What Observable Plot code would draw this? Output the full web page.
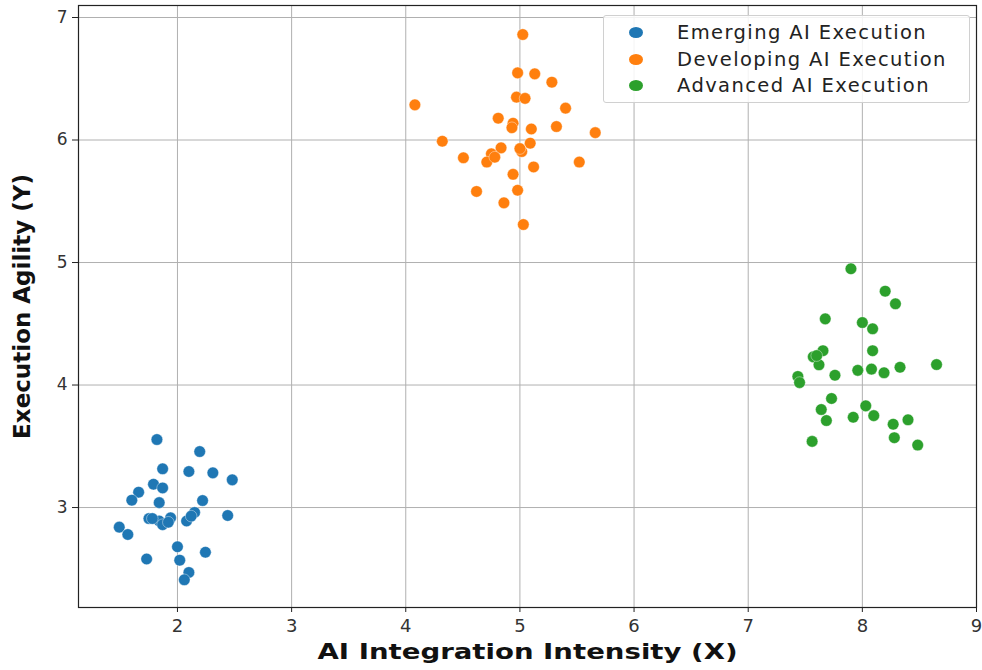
<!DOCTYPE html>
<html>
<head>
<meta charset="utf-8">
<script src="https://cdn.jsdelivr.net/npm/d3@7"></script>
<script src="https://cdn.jsdelivr.net/npm/@observablehq/plot@0.6"></script>
<style>
  html, body { margin: 0; padding: 0; background: #fff; }
  #wrap { position: relative; width: 982px; height: 670px; font-family: "DejaVu Sans", sans-serif; }
  #legend { position: absolute; left: 603px; top: 15px; width: 367px; height: 88px; box-sizing: border-box;
    border: 1px solid #d0d0d0; border-radius: 3px; background: rgba(255,255,255,0.85); padding: 3px 0 0 0; }
  .item { display: flex; align-items: center; height: 26.7px; font-size: 19.5px; color: #222; letter-spacing: 1.4px; }
  .sw { width: 14px; height: 11px; border-radius: 50%; margin-left: 25px; margin-right: 34px; }
</style>
</head>
<body>
<div id="wrap"></div>
<script>
const seriesNames = ["Emerging AI Execution", "Developing AI Execution", "Advanced AI Execution"];
const seriesColors = ["#1f77b4", "#ff7f0e", "#2ca02c"];

const emergingX = [1.82, 2.195, 1.87, 2.10, 2.31, 2.48, 1.79, 1.87, 1.66, 1.60, 1.84, 2.22, 2.15, 2.44, 1.75, 1.84, 1.94, 1.87, 2.08, 1.49, 1.565, 2.00, 2.245, 1.73, 2.02, 2.10, 2.06, 1.92, 1.78, 2.12];
const emergingY = [3.555, 3.457, 3.316, 3.294, 3.283, 3.226, 3.19, 3.16, 3.125, 3.06, 3.04, 3.057, 2.96, 2.935, 2.91, 2.89, 2.916, 2.86, 2.89, 2.84, 2.78, 2.68, 2.635, 2.58, 2.57, 2.47, 2.41, 2.88, 2.91, 2.93];

const developingX = [5.025, 4.98, 5.13, 5.28, 4.08, 4.97, 5.045, 5.40, 4.81, 4.94, 4.93, 5.10, 5.32, 5.66, 4.32, 4.835, 5.09, 5.016, 4.75, 4.505, 4.71, 5.12, 5.52, 4.94, 4.62, 4.98, 4.86, 5.03, 5.00, 4.78];
const developingY = [6.861, 6.548, 6.54, 6.472, 6.287, 6.35, 6.34, 6.26, 6.178, 6.137, 6.10, 6.09, 6.11, 6.06, 5.99, 5.936, 5.974, 5.906, 5.887, 5.855, 5.82, 5.78, 5.82, 5.72, 5.58, 5.59, 5.487, 5.31, 5.93, 5.86];

const advancedX = [7.90, 8.20, 8.29, 7.675, 8.00, 8.09, 7.655, 7.57, 8.09, 7.62, 7.96, 8.08, 8.19, 8.33, 8.65, 7.76, 7.435, 7.45, 7.73, 8.03, 7.64, 8.10, 7.92, 7.685, 8.27, 8.40, 8.28, 7.56, 8.485, 7.60];
const advancedY = [4.949, 4.766, 4.663, 4.54, 4.51, 4.459, 4.28, 4.23, 4.28, 4.165, 4.12, 4.13, 4.10, 4.145, 4.167, 4.08, 4.07, 4.02, 3.89, 3.83, 3.80, 3.75, 3.737, 3.71, 3.68, 3.716, 3.57, 3.54, 3.51, 4.24];

const xTicks = [2, 3, 4, 5, 6, 7, 8, 9];
const yTicks = [3, 4, 5, 6, 7];
const xTitle = "AI Integration Intensity (X)";
const yTitle = "Execution Agility (Y)";

const groups = [[emergingX, emergingY], [developingX, developingY], [advancedX, advancedY]];
const data = [];
groups.forEach(([xs, ys], gi) => xs.forEach((x, i) => data.push({x, y: ys[i], s: seriesNames[gi]})));

const chart = Plot.plot({
  width: 982,
  height: 670,
  marginLeft: 78,
  marginRight: 6,
  marginTop: 5,
  marginBottom: 63,
  style: { fontFamily: "DejaVu Sans, sans-serif", fontSize: "16px", color: "#222", background: "#fff", overflow: "visible" },
  x: { domain: [1.133, 9.0], ticks: xTicks, label: null },
  y: { domain: [2.184, 7.098], ticks: yTicks, label: null },
  color: { domain: seriesNames, range: seriesColors },
  marks: [
    Plot.gridX(xTicks, { stroke: "#b0b0b0", strokeOpacity: 1, strokeWidth: 1 }),
    Plot.gridY(yTicks, { stroke: "#b0b0b0", strokeOpacity: 1, strokeWidth: 1 }),
    Plot.dot(data, { x: "x", y: "y", fill: "s", r: 5.8, stroke: "white", strokeWidth: 0.4 }),
    Plot.frame({ stroke: "#222", strokeWidth: 1.2 }),
    Plot.axisX(xTicks, { tickSize: 5, tickPadding: 7, fontSize: 18, stroke: "#222", fill: "#333", tickFormat: "d", label: null }),
    Plot.axisY(yTicks, { tickSize: 6, tickPadding: 5, fontSize: 17, stroke: "#222", fill: "#333", tickFormat: "d", label: null }),
    Plot.text([xTitle], { frameAnchor: "bottom", dy: 51, fontSize: 22, fontWeight: "bold", fill: "#111" }),
    Plot.text([yTitle], { frameAnchor: "left", textAnchor: "middle", dx: -56, rotate: -90, fontSize: 23, fontWeight: "bold", fill: "#111" })
  ]
});

d3.select(chart).selectAll("text").filter(function () { return this.textContent === xTitle; })
  .attr("textLength", 420).attr("lengthAdjust", "spacingAndGlyphs");

const wrap = document.getElementById("wrap");
wrap.appendChild(chart);

const legend = document.createElement("div");
legend.id = "legend";
seriesNames.forEach((name, i) => {
  const it = document.createElement("div");
  it.className = "item";
  const sw = document.createElement("span");
  sw.className = "sw";
  sw.style.background = seriesColors[i];
  const t = document.createElement("span");
  t.textContent = name;
  it.appendChild(sw);
  it.appendChild(t);
  legend.appendChild(it);
});
wrap.appendChild(legend);
</script>
</body>
</html>
